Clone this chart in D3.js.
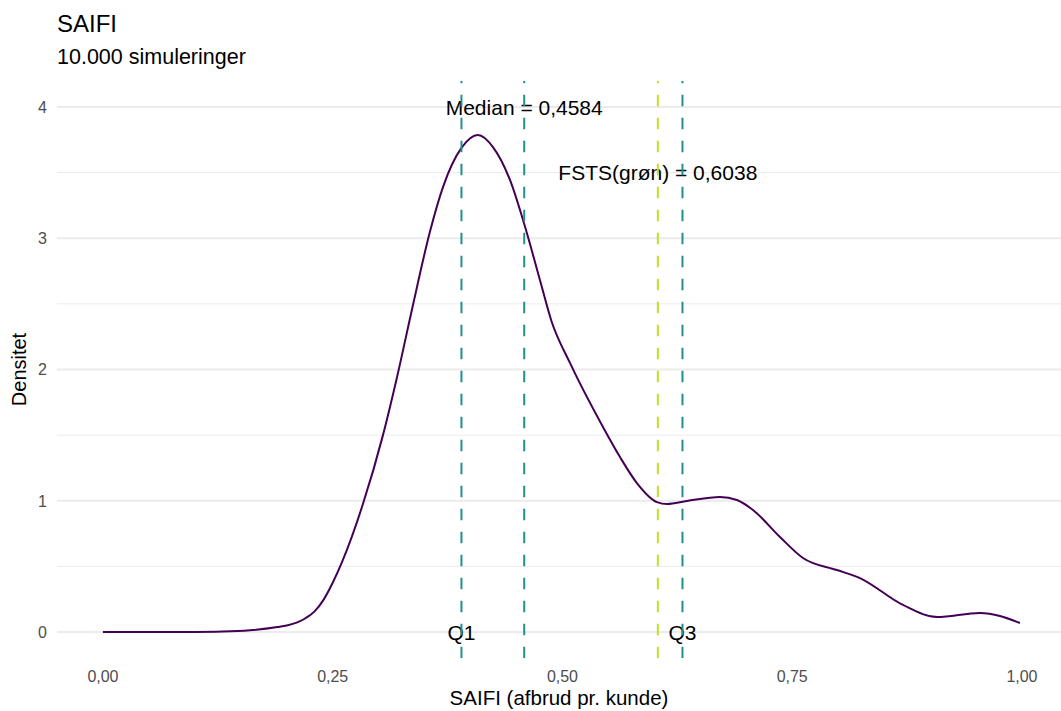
<!DOCTYPE html>
<html>
<head>
<meta charset="utf-8">
<script src="https://cdn.jsdelivr.net/npm/d3@7"></script>
<style>
  html, body { margin: 0; padding: 0; background: #fff; }
  text { font-family: "Liberation Sans", Arial, Helvetica, sans-serif; }
</style>
</head>
<body>
<svg id="chart" width="1061" height="711"></svg>
<script>
// ---- data ----
const densX = [0, 0.05, 0.10, 0.13, 0.16, 0.19, 0.20, 0.21, 0.22, 0.23, 0.24, 0.25, 0.26, 0.2829, 0.3047, 0.3196, 0.3373, 0.3558, 0.370, 0.3903, 0.408, 0.4244, 0.4429, 0.4581, 0.4755, 0.4880, 0.5082, 0.5441, 0.5626, 0.581, 0.6028, 0.6137, 0.6355, 0.6714, 0.6899, 0.7073, 0.7367, 0.7617, 0.7987, 0.8237, 0.8705, 0.9075, 0.9543, 0.9978];
const densY = [0, 0, 0.0005, 0.003, 0.013, 0.038, 0.050, 0.070, 0.103, 0.155, 0.245, 0.375, 0.53, 0.975, 1.50, 1.93, 2.49, 3.05, 3.39, 3.69, 3.787, 3.695, 3.444, 3.116, 2.682, 2.37, 2.05, 1.562, 1.333, 1.135, 0.990, 0.975, 0.998, 1.029, 1.006, 0.930, 0.724, 0.564, 0.472, 0.411, 0.206, 0.114, 0.145, 0.069];

const lineLabels = ["Q1", "Median", "FSTS", "Q3"];
const lineValues = [0.3901, 0.4584, 0.6038, 0.6306];
const lineColors = ["#21908C", "#21908C", "#C2DF23", "#21908C"];

const annTexts = ["Median = 0,4584", "FSTS(grøn) = 0,6038", "Q1", "Q3"];
const annX = [0.4584, 0.6038, 0.3901, 0.6306];
const annY = [4, 3.5, 0, 0];

const xTicks = [0, 0.25, 0.5, 0.75, 1.0];
const xTickLabels = ["0,00", "0,25", "0,50", "0,75", "1,00"];
const yTicks = [0, 1, 2, 3, 4];
const yMinor = [0.5, 1.5, 2.5, 3.5];

const title = "SAIFI";
const subtitle = "10.000 simuleringer";
const xTitle = "SAIFI (afbrud pr. kunde)";
const yTitle = "Densitet";

// ---- layout ----
const svg = d3.select("#chart");
const W = 1061, H = 711;
const panel = { left: 57, top: 80.75, bottom: 658.25 };
const unitX = 919;
const x = d3.scaleLinear().domain([-0.05, 1.05]).range([panel.left, panel.left + 1.1 * unitX]);
const y = d3.scaleLinear().domain([-0.2, 4.2]).range([panel.bottom, panel.top]);

svg.append("defs").append("clipPath").attr("id", "pc")
  .append("rect").attr("x", panel.left).attr("y", panel.top)
  .attr("width", W - panel.left).attr("height", panel.bottom - panel.top);

const g = svg.append("g").attr("clip-path", "url(#pc)");

// minor grid
g.selectAll("line.ymin").data(yMinor).enter().append("line")
  .attr("x1", panel.left).attr("x2", W)
  .attr("y1", d => y(d)).attr("y2", d => y(d))
  .attr("stroke", "#EBEBEB").attr("stroke-width", 1);
// major grid
g.selectAll("line.ymaj").data(yTicks).enter().append("line")
  .attr("x1", panel.left).attr("x2", W)
  .attr("y1", d => y(d)).attr("y2", d => y(d))
  .attr("stroke", "#EBEBEB").attr("stroke-width", 1.8);

// density curve
const line = d3.line().x((d, i) => x(densX[i])).y((d, i) => y(densY[i])).curve(d3.curveMonotoneX);
g.append("path").datum(densY).attr("d", line)
  .attr("fill", "none").attr("stroke", "#440154").attr("stroke-width", 2);

// annotations
g.selectAll("text.ann").data(annTexts).enter().append("text")
  .attr("x", (d, i) => x(annX[i])).attr("y", (d, i) => y(annY[i]))
  .attr("text-anchor", "middle").attr("dy", "0.36em")
  .attr("font-size", 21).attr("fill", "#000").text(d => d);

// vertical dashed lines (drawn bottom to top)
g.selectAll("line.v").data(lineValues).enter().append("line")
  .attr("x1", d => x(d)).attr("x2", d => x(d))
  .attr("y1", panel.bottom).attr("y2", panel.top)
  .attr("stroke", (d, i) => lineColors[i]).attr("stroke-width", 2)
  .attr("stroke-dasharray", "11.5,11.5");

// axes labels
svg.selectAll("text.xt").data(xTicks).enter().append("text")
  .attr("x", d => x(d)).attr("y", 682)
  .attr("text-anchor", "middle").attr("font-size", 16).attr("fill", "#4D4D4D")
  .text((d, i) => xTickLabels[i]);
svg.selectAll("text.yt").data(yTicks).enter().append("text")
  .attr("x", 47).attr("y", d => y(d)).attr("dy", "0.36em")
  .attr("text-anchor", "end").attr("font-size", 16).attr("fill", "#4D4D4D")
  .text(d => d);

svg.append("text").attr("x", (panel.left + W) / 2).attr("y", 705)
  .attr("text-anchor", "middle").attr("font-size", 20.5).attr("fill", "#000").text(xTitle);
svg.append("text").attr("transform", `translate(25.5, ${(panel.top + panel.bottom) / 2}) rotate(-90)`)
  .attr("text-anchor", "middle").attr("font-size", 20).attr("fill", "#000").text(yTitle);

svg.append("text").attr("x", 57).attr("y", 32).attr("font-size", 24).attr("fill", "#000").text(title);
svg.append("text").attr("x", 57).attr("y", 64).attr("font-size", 21.5).attr("fill", "#000").text(subtitle);
</script>
</body>
</html>
